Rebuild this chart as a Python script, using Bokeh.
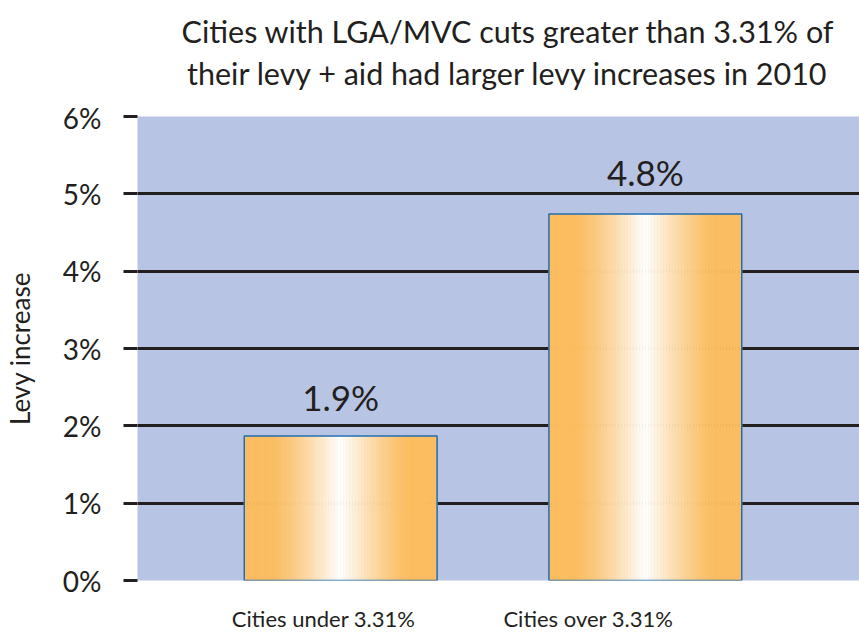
import numpy as np
from bokeh.plotting import figure
from bokeh.layouts import column
from bokeh.models import ColumnDataSource, FixedTicker
from bokeh.core.properties import value
from bokeh.embed import file_html
from bokeh.resources import INLINE

# ---- data ----
categories = ["Cities under 3.31%", "Cities over 3.31%"]
levy_increase = [1.87, 4.74]
value_labels = ["1.9%", "4.8%"]
label_values = [1.9, 4.8]
y_ticks = [0, 1, 2, 3, 4, 5, 6]
y_tick_labels = ["0%", "1%", "2%", "3%", "4%", "5%", "6%"]
title_lines = ["Cities with LGA/MVC cuts greater than 3.31% of",
               "their levy + aid had larger levy increases in 2010"]
y_label = "Levy increase"

# ---- style ----
FONT = "Lato"
TEXT = "#231f20"
BG = "#b8c4e3"
OUTLINE = "#1e6db6"
ORANGE = np.array([251, 189, 96])
WHITE = np.array([255, 255, 255])
bar_w = 0.633
x_label_shift = [-0.056, -0.187]
n_strips = 64
W = 859
TITLE_H = 100
title_x = 441
title_line_y = [30, 72]

xs = [i + 1 for i in range(len(categories))]

# ---- title panel ----
pt = figure(width=W, height=TITLE_H, x_range=(0, W), y_range=(TITLE_H, 0),
            output_backend="svg", toolbar_location=None,
            x_axis_type=None, y_axis_type=None,
            min_border_left=0, min_border_right=0, min_border_top=0, min_border_bottom=0)
pt.outline_line_color = None
pt.background_fill_color = "white"
pt.border_fill_color = "white"
pt.xgrid.grid_line_color = None
pt.ygrid.grid_line_color = None
pt.text(x=[title_x] * len(title_lines), y=title_line_y, text=title_lines,
        text_align="center", text_baseline="middle", text_font=value(FONT),
        text_font_size="30.5px", text_color=TEXT)

# ---- main chart ----
p = figure(width=W, height=634 - TITLE_H, x_range=(0.333, 2.703), y_range=(0, 6),
           output_backend="svg", toolbar_location=None,
           min_border_left=136, min_border_right=0, min_border_top=16,
           min_border_bottom=52)
p.title = None
p.background_fill_color = BG
p.border_fill_color = "white"
p.outline_line_color = None

# gradient strips for bars
left, right, top, bottom, colors = [], [], [], [], []
for x, v in zip(xs, levy_increase):
    edges = np.linspace(x - bar_w / 2, x + bar_w / 2, n_strips + 1)
    for i in range(n_strips):
        u = (i + 0.5) / n_strips
        d = abs(2 * u - 1)
        w = max(0.0, 1 - d / 0.72) ** 1.3
        c = ORANGE + (WHITE - ORANGE) * w
        colors.append("#%02x%02x%02x" % tuple(int(round(k)) for k in c))
        left.append(edges[i]); right.append(edges[i + 1])
        top.append(v); bottom.append(0)
strips = ColumnDataSource(dict(left=left, right=right, top=top, bottom=bottom, color=colors))
p.quad(left="left", right="right", top="top", bottom="bottom", source=strips,
       fill_color="color", line_color="color", line_width=0.6)

bars = ColumnDataSource(dict(x=xs, top=levy_increase, label=value_labels, ly=label_values))
p.vbar(x="x", top="top", bottom=0, width=bar_w, source=bars,
       fill_color=None, line_color=OUTLINE, line_width=1.5)

p.text(x="x", y="ly", text="label", source=bars, text_align="center",
       text_baseline="alphabetic", y_offset=-37, text_font=value(FONT),
       text_font_size="35px", text_color=TEXT)

# grid
p.xgrid.grid_line_color = None
p.ygrid.ticker = FixedTicker(ticks=y_ticks)
p.ygrid.grid_line_color = TEXT
p.ygrid.grid_line_width = 3

# y axis
p.yaxis.ticker = FixedTicker(ticks=y_ticks)
p.yaxis.major_label_overrides = {t: l for t, l in zip(y_ticks, y_tick_labels)}
p.yaxis.axis_line_color = None
p.yaxis.major_tick_out = 14
p.yaxis.major_tick_in = 0
p.yaxis.major_tick_line_color = TEXT
p.yaxis.major_tick_line_width = 3
p.yaxis.minor_tick_line_color = None
p.yaxis.major_label_standoff = 22
p.yaxis.major_label_text_font = FONT
p.yaxis.major_label_text_font_size = "28px"
p.yaxis.major_label_text_color = TEXT
p.yaxis.axis_label = y_label
p.yaxis.axis_label_text_font = FONT
p.yaxis.axis_label_text_font_size = "26px"
p.yaxis.axis_label_text_font_style = "normal"
p.yaxis.axis_label_text_color = TEXT
p.yaxis.axis_label_standoff = 24

# x axis
x_tick_pos = [x + s for x, s in zip(xs, x_label_shift)]
p.xaxis.ticker = FixedTicker(ticks=x_tick_pos)
p.xaxis.major_label_overrides = {t: c for t, c in zip(x_tick_pos, categories)}
p.xaxis.axis_line_color = None
p.xaxis.major_tick_line_color = None
p.xaxis.minor_tick_line_color = None
p.xaxis.major_tick_out = 0
p.xaxis.major_tick_in = 0
p.xaxis.major_label_standoff = 24
p.xaxis.major_label_text_font = FONT
p.xaxis.major_label_text_font_size = "22px"
p.xaxis.major_label_text_color = TEXT

layout = column(pt, p, spacing=0)
open("out.html", "w").write(file_html(layout, INLINE))
